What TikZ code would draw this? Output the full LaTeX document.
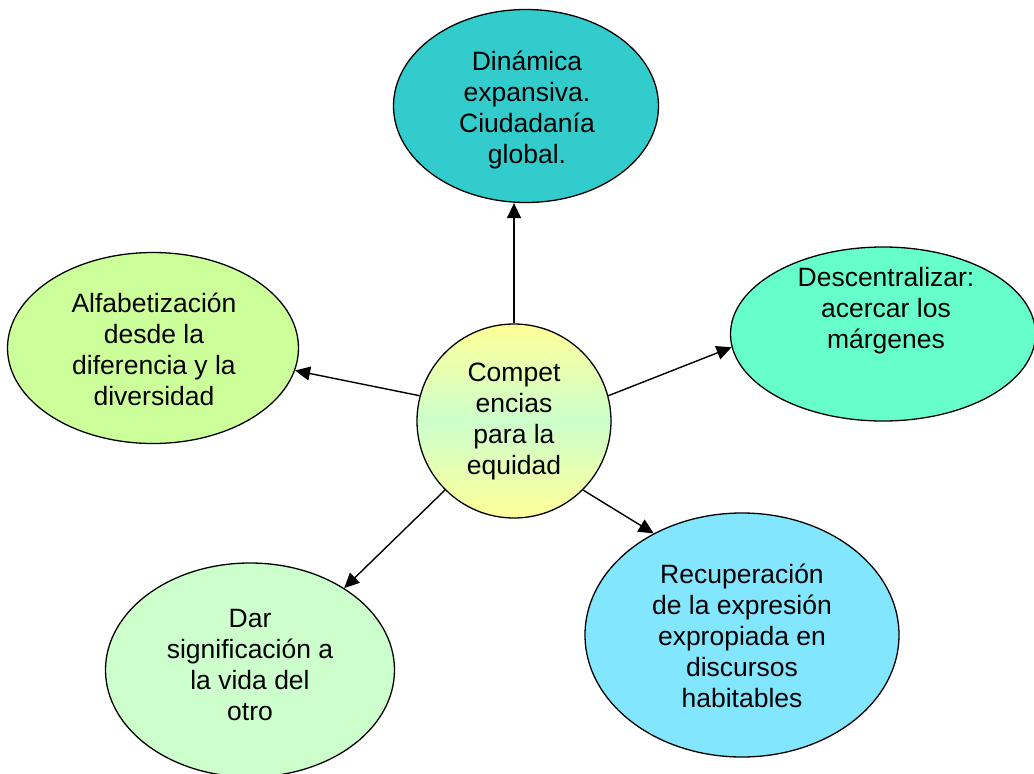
\documentclass[tikz,border=0pt]{standalone}
\usepackage{fontspec}
\setmainfont{Liberation Sans}
\usetikzlibrary{shapes.geometric,arrows.meta}
\definecolor{cTop}{HTML}{33CCCC}
\definecolor{cLeft}{HTML}{CCFF99}
\definecolor{cRight}{HTML}{66FFCC}
\definecolor{cBR}{HTML}{82E6FF}
\definecolor{cBL}{HTML}{CCFFCC}
\definecolor{cYel}{HTML}{FFFF99}
\definecolor{cMid}{HTML}{CCFFCC}
\begin{document}
\begin{tikzpicture}[x=1pt,y=-1pt,
  bubble/.style={ellipse, draw=black, line width=1.3pt, inner sep=0pt},
  txt/.style={align=center, font=\fontsize{26.5}{31}\selectfont},
  link/.style={line width=1.4pt, -{Triangle[length=15pt,width=14pt]}}]
\useasboundingbox (0,0) rectangle (1034,774);
\node[bubble, fill=cTop, minimum width=265pt, minimum height=193pt] (top) at (526,106) {};
\node[txt] (toptxt) at (527,110) {Dinámica\\expansiva.\\Ciudadanía\\global.};
\node[bubble, fill=cLeft, minimum width=291pt, minimum height=191pt] (lft) at (153,348) {};
\node[txt] (lfttxt) at (154,349) {Alfabetización\\desde la\\diferencia y la\\diversidad};
\node[bubble, fill=cRight, minimum width=305pt, minimum height=174pt] (rgt) at (883,334) {};
\node[txt] (rgttxt) at (886,311) {Descentralizar:\\acercar los\\márgenes};
\node[bubble, fill=cBR, minimum width=314pt, minimum height=244pt] (br) at (742,635) {};
\node[txt] (brtxt) at (742,636) {Recuperación\\de la expresión\\expropiada en\\discursos\\habitables};
\node[bubble, fill=cBL, minimum width=289pt, minimum height=214pt] (bl) at (250,670) {};
\node[txt] (bltxt) at (250,665) {Dar\\significación a\\la vida del\\otro};
\node[circle, draw=black, line width=1.3pt, minimum size=194pt, inner sep=0pt,
  top color=cYel, bottom color=cYel, middle color=cMid] (c) at (514,421) {};
\node[txt] (ctxt) at (514,421) {Compet\\encias\\para la\\equidad};
\draw[link] (c.north) -- (c.north |- top.south);
\draw[link] (c.165) -- (lft.-9);
\draw[link] (c.15) -- (rgt.185);
\draw[link] (c.-45) -- (br.131);
\draw[link] (c.-135) -- (bl.41);
\end{tikzpicture}
\end{document}
